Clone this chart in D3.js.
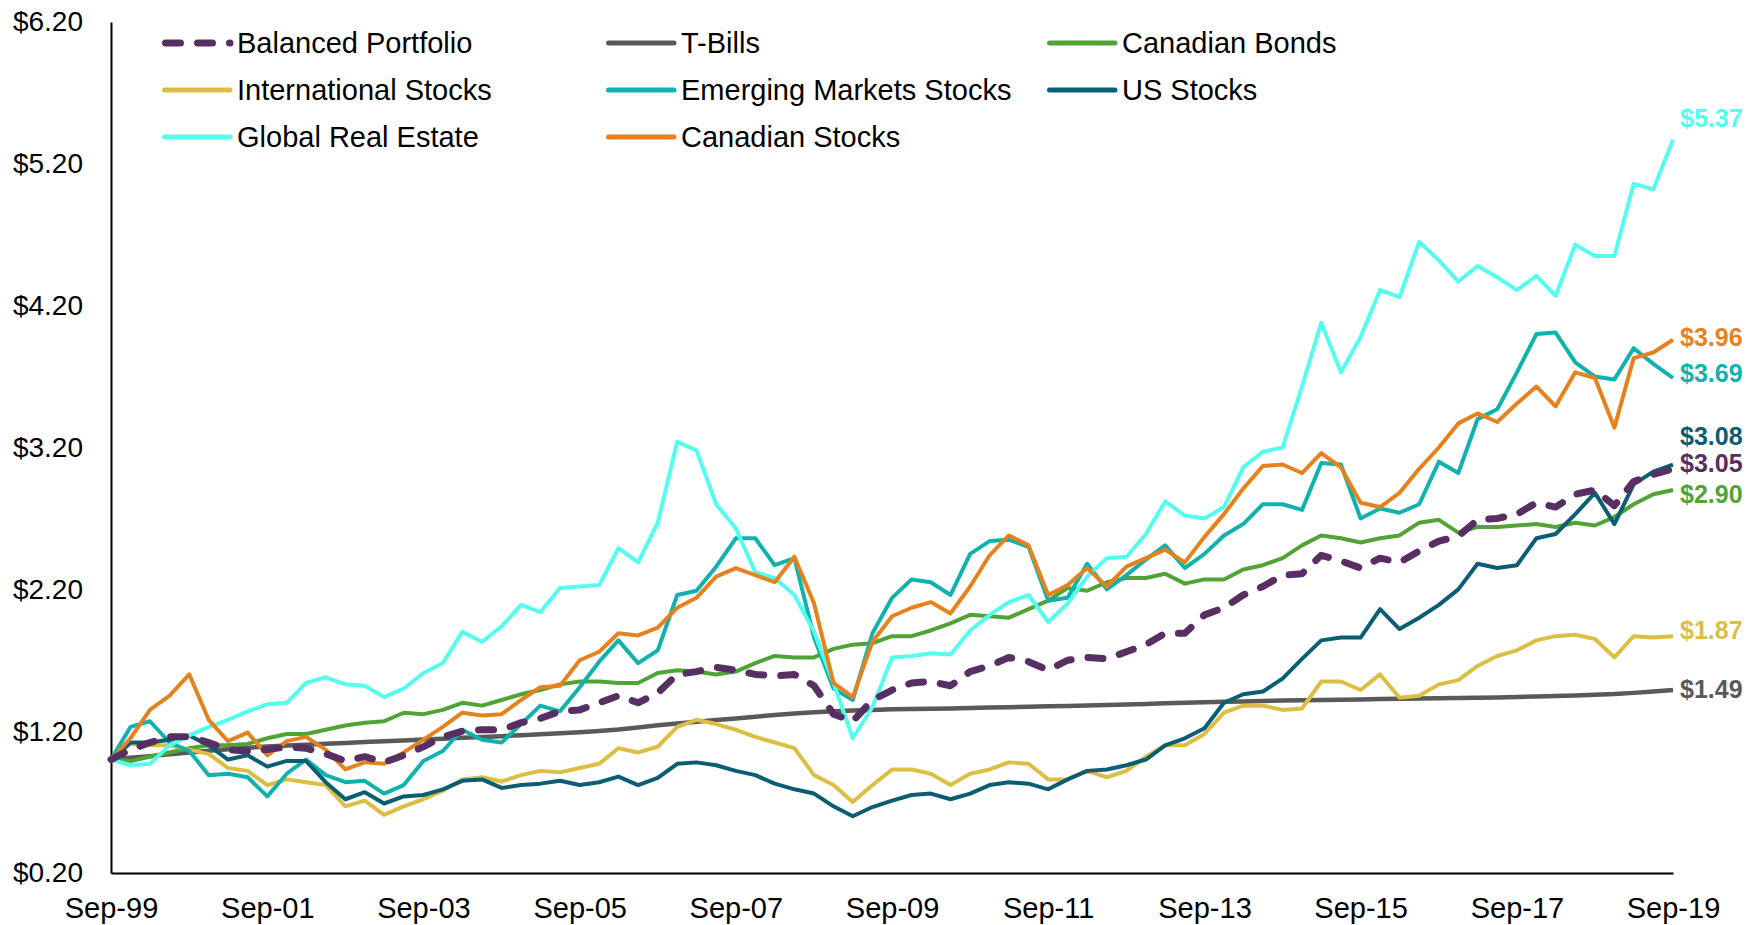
<!DOCTYPE html>
<html>
<head>
<meta charset="utf-8">
<script src="https://cdn.jsdelivr.net/npm/d3@7"></script>
<style>
  html, body { margin: 0; padding: 0; background: #fff; }
  svg { display: block; }
</style>
</head>
<body>
<svg id="chart" width="1756" height="925"></svg>
<script>
const quarters = d3.range(81).map(i => new Date(1999, 8 + 3 * i, 1));
const xTickDates = d3.range(0, 81, 8).map(i => quarters[i]);
const yTickValues = [0.2, 1.2, 2.2, 3.2, 4.2, 5.2, 6.2];

const balanced = [1.00, 1.07, 1.12, 1.16, 1.16, 1.12, 1.07, 1.06, 1.07, 1.09, 1.08, 1.04, 0.99, 1.02, 0.98, 1.03,
  1.09, 1.16, 1.20, 1.21, 1.21, 1.26, 1.29, 1.34, 1.35, 1.40, 1.45, 1.40, 1.47,
  1.60, 1.62, 1.65, 1.63, 1.60, 1.59, 1.60, 1.52, 1.32, 1.27, 1.42, 1.49, 1.54, 1.55, 1.52, 1.62, 1.66, 1.72, 1.69,
  1.63, 1.70, 1.72, 1.71, 1.76, 1.81, 1.89, 1.89,
  2.02, 2.07, 2.16, 2.22, 2.30, 2.31, 2.44, 2.40, 2.35, 2.42, 2.39, 2.47, 2.54, 2.575, 2.69, 2.70, 2.73, 2.81, 2.78,
  2.87, 2.90, 2.79, 2.96, 3.01, 3.05];

const tBills = [1.000, 1.012, 1.024, 1.037, 1.050, 1.062, 1.073, 1.083, 1.092, 1.099, 1.105, 1.111, 1.117, 1.123,
  1.129, 1.135, 1.141, 1.147, 1.153, 1.159, 1.165, 1.171, 1.178, 1.185, 1.193, 1.202, 1.212, 1.226, 1.242,
  1.254, 1.266, 1.278, 1.290, 1.302, 1.314, 1.325, 1.334, 1.341, 1.346, 1.349, 1.354, 1.356, 1.358, 1.360, 1.363,
  1.366, 1.369, 1.372, 1.375, 1.378, 1.381, 1.385, 1.388, 1.392, 1.396, 1.400,
  1.404, 1.407, 1.410, 1.413, 1.416, 1.418, 1.420, 1.422, 1.424, 1.426, 1.428, 1.430, 1.432, 1.434, 1.436, 1.438,
  1.441, 1.444, 1.448, 1.452, 1.457, 1.462, 1.470, 1.479, 1.490];

const canadianBonds = [1.00, 0.99, 1.02, 1.05, 1.08, 1.10, 1.10, 1.11, 1.15, 1.18, 1.18, 1.21, 1.24, 1.26, 1.27,
  1.33, 1.32, 1.35, 1.40, 1.38, 1.42, 1.46, 1.49, 1.53, 1.55, 1.55, 1.54, 1.54, 1.61,
  1.63, 1.62, 1.60, 1.62, 1.68, 1.73, 1.72, 1.72, 1.78, 1.81, 1.82, 1.87, 1.87, 1.91, 1.96, 2.02, 2.01, 2.00, 2.06,
  2.12, 2.21, 2.19, 2.25, 2.28, 2.28, 2.31, 2.24,
  2.27, 2.27, 2.34, 2.37, 2.42, 2.51, 2.58, 2.56, 2.53, 2.56, 2.58, 2.67, 2.69, 2.60, 2.64, 2.64, 2.65, 2.66, 2.64,
  2.67, 2.65, 2.71, 2.80, 2.87, 2.90];

const internationalStocks = [1.00, 1.11, 1.10, 1.10, 1.07, 1.04, 0.94, 0.92, 0.82, 0.86, 0.84, 0.82, 0.67, 0.71,
  0.61, 0.67, 0.72, 0.78, 0.86, 0.875, 0.845, 0.89, 0.92, 0.91, 0.94, 0.97, 1.08, 1.05, 1.09,
  1.23, 1.28, 1.25, 1.21, 1.16, 1.12, 1.08, 0.89, 0.82, 0.70, 0.82, 0.93, 0.93, 0.90, 0.82, 0.90, 0.93, 0.98, 0.97,
  0.86, 0.86, 0.92, 0.875, 0.92, 1.02, 1.10, 1.10,
  1.18, 1.33, 1.38, 1.38, 1.35, 1.36, 1.55, 1.55, 1.49, 1.60, 1.435, 1.45, 1.53, 1.56, 1.66, 1.73, 1.77, 1.84, 1.87,
  1.88, 1.85, 1.72, 1.87, 1.86, 1.87];

const emergingMarkets = [1.00, 1.23, 1.27, 1.12, 1.06, 0.89, 0.90, 0.875, 0.74, 0.90, 1.00, 0.89, 0.84, 0.85, 0.76,
  0.82, 0.99, 1.06, 1.21, 1.14, 1.12, 1.25, 1.38, 1.34, 1.51, 1.69, 1.84, 1.68, 1.77,
  2.16, 2.19, 2.36, 2.56, 2.56, 2.37, 2.42, 1.86, 1.50, 1.42, 1.89, 2.14, 2.27, 2.25, 2.16, 2.45, 2.54, 2.55, 2.50,
  2.12, 2.14, 2.38, 2.20, 2.30, 2.41, 2.51, 2.35,
  2.45, 2.58, 2.66, 2.80, 2.80, 2.76, 3.09, 3.08, 2.70, 2.77, 2.74, 2.80, 3.10, 3.02, 3.40, 3.47, 3.73, 4.00, 4.01,
  3.80, 3.70, 3.68, 3.90, 3.79, 3.69];

const usStocks = [1.00, 1.12, 1.12, 1.14, 1.17, 1.10, 1.00, 1.03, 0.95, 0.99, 0.99, 0.84, 0.72, 0.77, 0.69, 0.74,
  0.75, 0.79, 0.85, 0.86, 0.80, 0.82, 0.83, 0.85, 0.82, 0.84, 0.88, 0.82, 0.87,
  0.97, 0.98, 0.96, 0.92, 0.89, 0.83, 0.79, 0.76, 0.67, 0.60, 0.665, 0.71, 0.75, 0.76, 0.72, 0.76, 0.82, 0.84, 0.83,
  0.79, 0.86, 0.92, 0.93, 0.96, 1.00, 1.10, 1.15,
  1.22, 1.40, 1.46, 1.48, 1.57, 1.71, 1.84, 1.86, 1.86, 2.06, 1.92, 2.00, 2.09, 2.20, 2.38, 2.35, 2.37, 2.56, 2.59,
  2.73, 2.88, 2.66, 2.94, 3.03, 3.08];

const globalRealEstate = [1.00, 0.96, 0.97, 1.10, 1.17, 1.23, 1.28, 1.34, 1.39, 1.40, 1.54, 1.58, 1.53, 1.52, 1.44,
  1.50, 1.61, 1.68, 1.90, 1.83, 1.94, 2.09, 2.04, 2.21, 2.22, 2.23, 2.49, 2.39, 2.67,
  3.24, 3.18, 2.80, 2.63, 2.32, 2.28, 2.16, 1.90, 1.54, 1.15, 1.37, 1.72, 1.73, 1.75, 1.74, 1.91, 2.02, 2.11, 2.16,
  1.97, 2.10, 2.29, 2.42, 2.43, 2.59, 2.82, 2.72,
  2.70, 2.78, 3.06, 3.17, 3.20, 3.63, 4.08, 3.73, 3.98, 4.31, 4.26, 4.65, 4.52, 4.37, 4.48, 4.40, 4.31, 4.41, 4.27,
  4.63, 4.55, 4.55, 5.06, 5.02, 5.37];

const canadianStocks = [1.00, 1.15, 1.35, 1.45, 1.60, 1.28, 1.13, 1.19, 1.03, 1.13, 1.16, 1.07, 0.93, 0.98, 0.97,
  1.05, 1.14, 1.23, 1.33, 1.31, 1.32, 1.42, 1.51, 1.52, 1.70, 1.76, 1.89, 1.875, 1.93,
  2.07, 2.14, 2.29, 2.35, 2.30, 2.25, 2.43, 2.10, 1.54, 1.44, 1.83, 2.01, 2.07, 2.11, 2.03, 2.22, 2.44, 2.58, 2.51,
  2.16, 2.23, 2.35, 2.22, 2.36, 2.42, 2.48, 2.39,
  2.57, 2.73, 2.91, 3.07, 3.08, 3.02, 3.16, 3.06, 2.81, 2.78, 2.88, 3.05, 3.20, 3.37, 3.44, 3.38, 3.51, 3.63, 3.49,
  3.73, 3.69, 3.34, 3.83, 3.87, 3.96];

// legend order (row by row)
const series = [
  {name: "Balanced Portfolio",      values: balanced,            color: "#582f62", width: 7, dash: "15 17", labelShift: -6},
  {name: "T-Bills",                 values: tBills,              color: "#595959", width: 4.5, labelShift: -1},
  {name: "Canadian Bonds",          values: canadianBonds,       color: "#50a436", width: 4, labelShift: 4},
  {name: "International Stocks",    values: internationalStocks, color: "#ddbe44", width: 4, labelShift: -6},
  {name: "Emerging Markets Stocks", values: emergingMarkets,     color: "#10b2ae", width: 4, labelShift: -5},
  {name: "US Stocks",               values: usStocks,            color: "#0a5e73", width: 4, labelShift: -29},
  {name: "Global Real Estate",      values: globalRealEstate,    color: "#55fdee", width: 4, labelShift: -22},
  {name: "Canadian Stocks",         values: canadianStocks,      color: "#e6821e", width: 4, labelShift: -3}
];
// drawing order: balanced portfolio on top
const drawOrder = [1, 2, 3, 4, 5, 6, 7, 0];

const font = "Arial, 'Liberation Sans', sans-serif";
const svg = d3.select("#chart");

const x = d3.scaleTime()
    .domain([quarters[0], quarters[quarters.length - 1]])
    .range([111, 1673]);
const y = d3.scaleLinear()
    .domain([0.2, 6.2])
    .range([873, 22]);

// axes
svg.append("g")
    .attr("transform", "translate(0,873)")
    .call(d3.axisBottom(x)
        .tickValues(xTickDates)
        .tickFormat(d3.timeFormat("%b-%y"))
        .tickSize(0)
        .tickPadding(24))
    .attr("font-family", font)
    .attr("font-size", 29)
    .call(g => g.select(".domain").attr("stroke", "#000").attr("stroke-width", 2))
    .call(g => g.selectAll("text").attr("fill", "#000"));

svg.append("g")
    .attr("transform", "translate(111,0)")
    .call(d3.axisLeft(y)
        .tickValues(yTickValues)
        .tickFormat(d => "$" + d.toFixed(2))
        .tickSize(0)
        .tickPadding(28))
    .attr("font-family", font)
    .attr("font-size", 28)
    .call(g => g.select(".domain").attr("stroke", "#000").attr("stroke-width", 2))
    .call(g => g.selectAll("text").attr("fill", "#000"));

// lines
const line = d3.line()
    .x((d, i) => x(quarters[i]))
    .y(d => y(d));

svg.append("g")
    .selectAll("path")
    .data(drawOrder.map(i => series[i]))
    .join("path")
    .attr("d", d => line(d.values))
    .attr("fill", "none")
    .attr("stroke", d => d.color)
    .attr("stroke-width", d => d.width)
    .attr("stroke-dasharray", d => d.dash || null)
    .attr("stroke-linecap", d => d.dash ? "round" : "butt")
    .attr("stroke-linejoin", "round");

// end labels
svg.append("g")
    .selectAll("text")
    .data(series)
    .join("text")
    .attr("x", 1680)
    .attr("y", d => y(d.values[d.values.length - 1]) + d.labelShift)
    .attr("dominant-baseline", "central")
    .attr("font-family", font)
    .attr("font-size", 25)
    .attr("font-weight", "bold")
    .attr("fill", d => d.color)
    .text(d => "$" + d.values[d.values.length - 1].toFixed(2));

// legend, three columns
const legendCols = [162, 606, 1047];
const legendRows = [43, 90, 137];
const legend = svg.append("g")
    .selectAll("g")
    .data(series)
    .join("g")
    .attr("transform", (d, i) => `translate(${legendCols[i % 3]},${legendRows[Math.floor(i / 3)]})`);

legend.append("line")
    .attr("x1", d => d.dash ? 3.5 : 2.5)
    .attr("x2", 68)
    .attr("stroke", d => d.color)
    .attr("stroke-width", d => d.dash ? 7 : 5)
    .attr("stroke-linecap", "round")
    .attr("stroke-dasharray", d => d.dash || null);

legend.append("text")
    .attr("x", 75)
    .attr("dominant-baseline", "central")
    .attr("font-family", font)
    .attr("font-size", 29)
    .attr("fill", "#000")
    .text(d => d.name);
</script>
</body>
</html>
